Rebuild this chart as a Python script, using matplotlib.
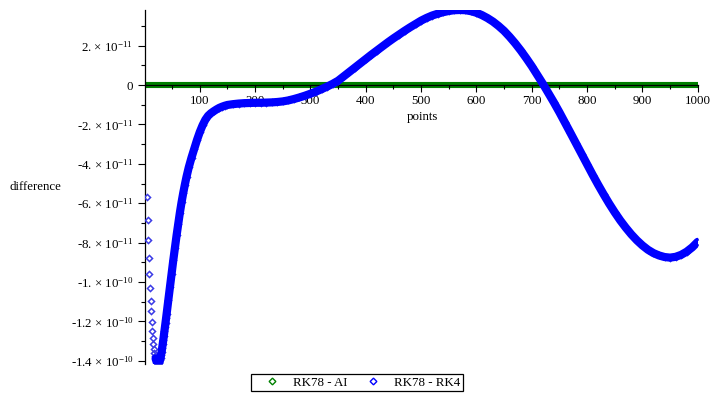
import numpy as np
import matplotlib
matplotlib.use("Agg")
import matplotlib.pyplot as plt
from matplotlib.lines import Line2D
from matplotlib.ticker import FixedLocator

plt.rcParams['font.family'] = ['Liberation Serif', 'DejaVu Serif']
plt.rcParams['mathtext.fontset'] = 'custom'
plt.rcParams['mathtext.rm'] = 'Liberation Serif'
plt.rcParams['mathtext.it'] = 'Liberation Serif:italic'
plt.rcParams['mathtext.bf'] = 'Liberation Serif:bold'

SCALE = 1e-11  # values below are in units of 1e-11

# ---- data -------------------------------------------------------------
series_labels = ["RK78 - AI", "RK78 - RK4"]

ai_points = np.arange(1, 1001)
ai_values = np.zeros(1000)          # RK78 - AI difference reads as 0 at this scale

rk4_points = [
    5, 6, 7, 8, 9, 10, 11, 12, 13, 14, 15, 16, 17, 18, 19, 20,
    21, 22, 23, 24, 25, 26, 27, 28, 29, 30, 31, 32, 33, 34, 35, 36, 37, 38, 39, 40,
    43, 46, 49, 52, 55, 58, 61, 64, 67, 70, 73, 76,
    80, 85, 90, 95, 100, 105, 110, 115, 120, 125, 130, 135, 140, 145, 150,
    160, 170, 180, 190, 200, 210, 220, 230, 240, 250,
    260, 270, 280, 290, 300, 310, 320, 330, 340, 350,
    360, 370, 380, 390, 400, 410, 420, 430, 440, 450,
    460, 470, 480, 490, 500, 510, 520, 530, 540, 550,
    560, 570, 580, 590, 600, 610, 620, 630, 640, 650,
    660, 670, 680, 690, 700, 710, 720, 730, 740, 750,
    760, 770, 780, 790, 800, 810, 820, 830, 840, 850,
    860, 870, 880, 890, 900, 910, 920, 930, 940, 950,
    960, 970, 980, 990, 1000,
]
rk4_values = [
    -5.70, -6.85, -7.87, -8.78, -9.59, -10.30, -10.95, -11.49, -12.03, -12.47, -12.84, -13.15, -13.40, -13.60, -13.76, -13.88,
    -13.98, -14.06, -14.11, -14.14, -14.15, -14.12, -14.06, -13.97, -13.85, -13.70, -13.53, -13.34, -13.14, -12.93, -12.72, -12.50, -12.28, -12.06, -11.84, -11.62,
    -10.93, -10.24, -9.57, -8.90, -8.25, -7.63, -7.03, -6.47, -5.95, -5.48, -5.05, -4.65,
    -4.18, -3.68, -3.23, -2.78, -2.38, -2.04, -1.76, -1.56, -1.43, -1.33, -1.24, -1.16, -1.10, -1.05, -1.01,
    -0.97, -0.94, -0.92, -0.91, -0.90, -0.90, -0.89, -0.88, -0.86, -0.83,
    -0.78, -0.71, -0.63, -0.54, -0.44, -0.33, -0.21, -0.08, 0.06, 0.22,
    0.44, 0.66, 0.88, 1.10, 1.32, 1.54, 1.75, 1.96, 2.17, 2.37,
    2.56, 2.75, 2.93, 3.10, 3.27, 3.41, 3.53, 3.62, 3.70, 3.76,
    3.80, 3.81, 3.80, 3.75, 3.67, 3.55, 3.40, 3.22, 3.00, 2.75,
    2.45, 2.12, 1.76, 1.37, 0.96, 0.52, 0.07, -0.40, -0.88, -1.38,
    -1.90, -2.43, -2.96, -3.50, -4.03, -4.55, -5.06, -5.55, -6.02, -6.46,
    -6.87, -7.24, -7.58, -7.88, -8.14, -8.36, -8.53, -8.65, -8.73, -8.76,
    -8.72, -8.62, -8.46, -8.24, -7.96,
]

x_ticks = [100, 200, 300, 400, 500, 600, 700, 800, 900, 1000]
x_tick_labels = ["100", "200", "300", "400", "500", "600", "700", "800", "900", "1000"]
x_minor_ticks = [50, 150, 250, 350, 450, 550, 650, 750, 850, 950]

y_ticks = [2e-11, 0, -2e-11, -4e-11, -6e-11, -8e-11, -1e-10, -1.2e-10, -1.4e-10]
y_tick_labels = [
    "2. \u00d7 10$^{-11}$", "0", "-2. \u00d7 10$^{-11}$", "-4. \u00d7 10$^{-11}$",
    "-6. \u00d7 10$^{-11}$", "-8. \u00d7 10$^{-11}$", "-1. \u00d7 10$^{-10}$",
    "-1.2 \u00d7 10$^{-10}$", "-1.4 \u00d7 10$^{-10}$",
]
y_minor_ticks = [3e-11, 1e-11, -1e-11, -3e-11, -5e-11, -7e-11, -9e-11, -1.1e-10, -1.3e-10]

# ---- figure ---------------------------------------------------------------
W, H = 716, 400
fig = plt.figure(figsize=(W / 100, H / 100), dpi=100)
ax = fig.add_axes([144.5 / W, 1 - 364 / H, 553.2 / W, 354 / H])

GREEN = "#008000"
BLUE = "#0000ff"
MARK_BLUE = "#3a3ae6"
FS = 9.3

rk4_x = np.array(rk4_points)
rk4_y = np.array(rk4_values) * SCALE

ax.plot(ai_points, ai_values * SCALE, color=GREEN, lw=4.4,
        solid_capstyle="round", zorder=2)

# markers underneath; the dense part of the series merges into a solid band
ax.plot(rk4_x, rk4_y, ls="none", marker="D", ms=3.1, mfc="none",
        mec=MARK_BLUE, mew=1.1, zorder=2.8)
dense = rk4_x >= 20
ax.plot(rk4_x[dense], rk4_y[dense], color=BLUE, lw=5.9,
        solid_capstyle="round", solid_joinstyle="round", zorder=3)

ax.set_xlim(0, 1000)
ax.set_ylim(-1.416e-10, 3.81e-11)

for s in ("top", "right"):
    ax.spines[s].set_visible(False)
ax.spines["left"].set_position(("data", 0))
ax.spines["bottom"].set_position(("data", 0))
for s in ("left", "bottom"):
    ax.spines[s].set_linewidth(0.9)
    ax.spines[s].set_zorder(2.5)
ax.set_axisbelow(False)

ax.set_xticks(x_ticks, labels=x_tick_labels)
ax.xaxis.set_minor_locator(FixedLocator(x_minor_ticks))
ax.set_yticks(y_ticks, labels=y_tick_labels)
ax.yaxis.set_minor_locator(FixedLocator(y_minor_ticks))

ax.tick_params(axis="both", which="major", direction="out", length=5,
               width=0.8, labelsize=FS, colors="black")
ax.tick_params(axis="both", which="minor", direction="out", length=3,
               width=0.8)
ax.tick_params(axis="x", which="major", pad=2.5)
ax.tick_params(axis="y", which="major", pad=3)

fig.text(10 / W, 1 - 187 / H, "difference", ha="left", va="center", fontsize=FS)
fig.text(422 / W, 1 - 117 / H, "points", ha="center", va="center", fontsize=FS)

handles = [
    Line2D([], [], ls="none", marker="D", ms=3.4, mfc="none", mec=GREEN, mew=1.0),
    Line2D([], [], ls="none", marker="D", ms=3.4, mfc="none", mec=BLUE, mew=1.0),
]
leg = fig.legend(handles, series_labels, loc="center",
                 bbox_to_anchor=(357 / W, 1 - 382.5 / H), ncol=2,
                 frameon=True, fancybox=False, edgecolor="black", framealpha=1,
                 fontsize=FS, handlelength=2.84, handletextpad=0.22,
                 columnspacing=0.51, borderpad=0.2, numpoints=1)
leg.get_frame().set_linewidth(0.9)

fig.savefig("out.png", dpi=100)
